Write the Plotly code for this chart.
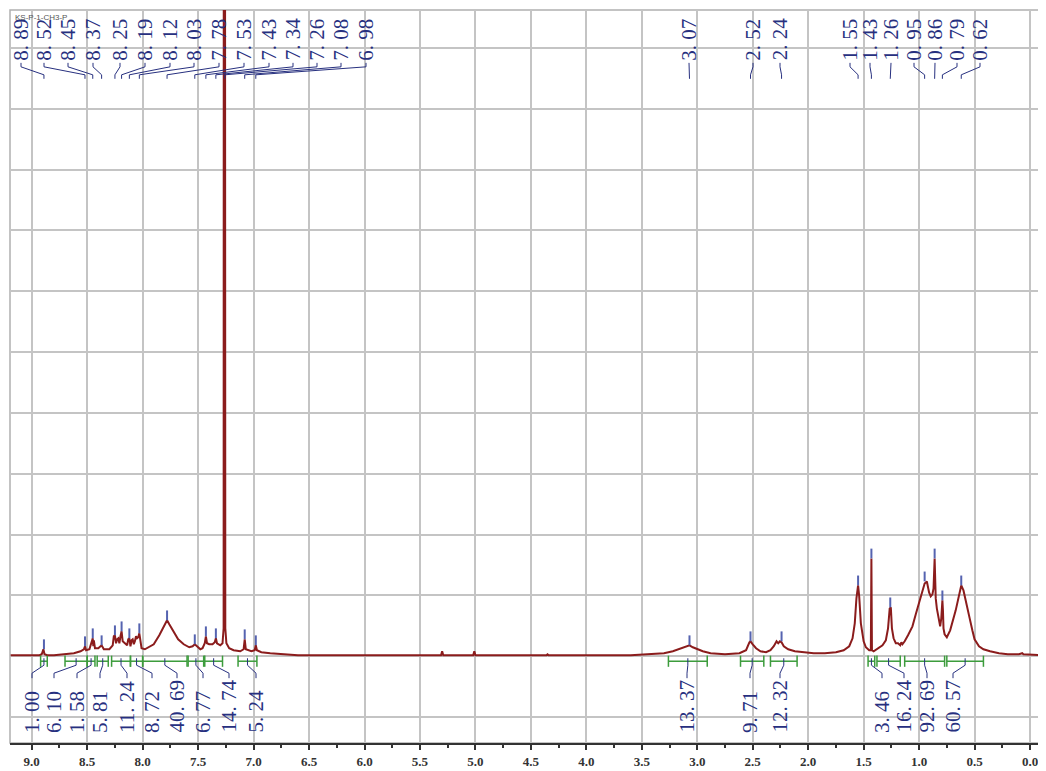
import plotly.graph_objects as go

# ---------------- data ----------------
ppm = [9.19, 9.00, 8.93, 8.91, 8.895, 8.885, 8.86, 8.80, 8.70, 8.62, 8.56, 8.53, 8.52, 8.51,
       8.48, 8.46, 8.45, 8.445, 8.44, 8.43, 8.40, 8.37, 8.35, 8.30, 8.27, 8.26, 8.25, 8.24,
       8.23, 8.22, 8.21, 8.20, 8.19, 8.18, 8.16, 8.14, 8.13, 8.12, 8.11, 8.10, 8.09, 8.08,
       8.07, 8.06, 8.05, 8.04, 8.03, 8.02, 8.01, 7.98, 7.95, 7.90, 7.85, 7.82, 7.80, 7.78,
       7.76, 7.72, 7.68, 7.63, 7.58, 7.55, 7.53, 7.51, 7.48, 7.46, 7.44, 7.43, 7.42, 7.40,
       7.37, 7.35, 7.34, 7.33, 7.30, 7.28, 7.27, 7.265, 7.255, 7.245, 7.22, 7.18, 7.12, 7.09,
       7.08, 7.07, 7.02, 6.99, 6.98, 6.97, 6.93, 6.85, 6.75, 6.60, 6.00, 5.31, 5.30, 5.29,
       5.02, 5.01, 5.00, 4.36, 4.35, 4.34, 3.60, 3.45, 3.30, 3.22, 3.15, 3.10, 3.07, 3.04,
       3.00, 2.95, 2.88, 2.75, 2.62, 2.56, 2.53, 2.52, 2.50, 2.47, 2.43, 2.38, 2.34, 2.31,
       2.285, 2.27, 2.255, 2.24, 2.22, 2.18, 2.12, 2.05, 1.95, 1.85, 1.75, 1.68, 1.63, 1.60,
       1.58, 1.565, 1.55, 1.54, 1.525, 1.50, 1.48, 1.45, 1.435, 1.43, 1.425, 1.41, 1.38, 1.33,
       1.30, 1.28, 1.265, 1.255, 1.245, 1.23, 1.21, 1.19, 1.17, 1.16, 1.15, 1.13, 1.10, 1.06,
       1.03, 1.00, 0.97, 0.95, 0.93, 0.91, 0.895, 0.88, 0.87, 0.865, 0.86, 0.855, 0.85, 0.84,
       0.82, 0.81, 0.80, 0.79, 0.785, 0.78, 0.77, 0.75, 0.72, 0.70, 0.67, 0.65, 0.63, 0.62,
       0.60, 0.58, 0.55, 0.52, 0.50, 0.46, 0.42, 0.36, 0.28, 0.20, 0.10, 0.07, 0.06, -0.09]
intensity = [0, 0, 0, 1, 6, 1, 0, 0, 1, 2, 4, 6, 9, 5,
             6, 12, 17, 9, 15, 7, 7, 10, 6, 6, 10, 19, 20, 12,
             16, 17, 12, 19, 24, 14, 12, 10, 16, 17, 9, 15, 16, 11,
             14, 19, 17, 18, 22, 12, 7, 6, 8, 11, 20, 27, 32, 35,
             31, 23, 16, 11, 8, 9, 11, 9, 6, 7, 12, 19, 12, 11,
             11, 13, 17, 12, 10, 12, 27, 3000, 27, 12, 7, 5, 4, 6,
             16, 6, 4, 5, 10, 5, 3, 2, 1, 0, 0, 0, 4, 0,
             0, 4, 0, 0, 1, 0, 0, 1, 2, 4, 7, 9, 10, 8,
             6, 4, 2, 1, 2, 5, 13, 14, 11, 7, 4, 3, 5, 9,
             14, 12, 14, 13, 9, 6, 4, 3, 2, 2, 3, 5, 9, 17,
             32, 57, 70, 59, 32, 14, 8, 5, 5, 97, 5, 4, 6, 10,
             15, 27, 47, 48, 27, 17, 12, 12, 10, 13, 11, 14, 20, 29,
             41, 53, 65, 72, 74, 63, 59, 61, 67, 95, 97, 77, 57, 47,
             33, 29, 37, 55, 45, 27, 21, 18, 25, 32, 45, 55, 67, 70,
             65, 56, 40, 25, 16, 9, 6, 4, 2, 1, 1, 2, 1, 0]

peak_labels = [8.89, 8.52, 8.45, 8.37, 8.25, 8.19, 8.12, 8.03, 7.78, 7.53, 7.43, 7.34,
               7.26, 7.08, 6.98, 3.07, 2.52, 2.24, 1.55, 1.43, 1.26, 0.95, 0.86, 0.79, 0.62]

integral_start = [8.92, 8.70, 8.50, 8.41, 8.28, 8.11, 8.00, 7.59, 7.44, 7.14,
                  3.26, 2.61, 2.34, 1.46, 1.38, 1.13, 0.75]
integral_end = [8.86, 8.50, 8.43, 8.31, 8.11, 8.00, 7.60, 7.45, 7.28, 6.97,
                2.91, 2.40, 2.10, 1.40, 1.17, 0.77, 0.42]
integral_values = [1.00, 6.10, 1.58, 5.81, 11.24, 8.72, 40.69, 6.77, 14.74, 5.24,
                   13.37, 9.71, 12.32, 3.46, 16.24, 92.69, 60.57]

tick_values = [9.0, 8.5, 8.0, 7.5, 7.0, 6.5, 6.0, 5.5, 5.0, 4.5, 4.0, 3.5, 3.0, 2.5, 2.0, 1.5, 1.0, 0.5, 0.0]
tick_text = ["9.0", "8.5", "8.0", "7.5", "7.0", "6.5", "6.0", "5.5", "5.0", "4.5", "4.0",
             "3.5", "3.0", "2.5", "2.0", "1.5", "1.0", "0.5", "0.0"]
title_text = "KS-P-1-CH3-P"

# ---------------- layout (pixel placement of labels) ----------------
PAGE_OFF = 8                       # default body margin of the html page
W, H = 1046 - PAGE_OFF, 771 - PAGE_OFF
ML, MR, MT, MB = 2, 6, 2, 26
X_LEFT, X_RIGHT = 9.196, -0.090
BASE_PX = 657                      # screen row of the spectrum baseline
Y_LO, Y_HI = BASE_PX - (PAGE_OFF + H - MB), BASE_PX - (PAGE_OFF + MT)
PLOT_W = W - ML - MR
PLOT_X0 = PAGE_OFF + ML

def px2ppm(px):
    return X_LEFT - (px - PLOT_X0) * (X_LEFT - X_RIGHT) / PLOT_W

def py2y(py):
    return BASE_PX - py

top_label_px = [21, 44, 68, 93, 120, 145, 170, 194, 219, 244, 269, 293, 317, 341, 366,
                689, 753, 780, 850, 870, 891, 914, 935, 957, 980]
int_label_px = [32, 54, 77, 100, 127, 152, 177, 203, 229, 256, 687, 750, 780, 882, 904, 927, 953]

NAVY = "#27307f"
GREEN = "#3c9c3c"
SPEC = "#8b1c1c"
GRID = "#c4c4c4"
LABEL_FONT = dict(family="Liberation Serif", size=21, color=NAVY)

def fmt(v):
    s = f"{v:.2f}"
    a, b = s.split(".")
    return f"{a}. {b}"

def local_top(p, w=0.02):
    return max(i for x, i in zip(ppm, intensity) if abs(x - p) <= w)

fig = go.Figure()

# spectrum
fig.add_trace(go.Scatter(x=ppm, y=intensity, mode="lines",
                         line=dict(color=SPEC, width=2), hoverinfo="skip"))

# peak pick markers
mx, my = [], []
for p in peak_labels:
    t = local_top(p)
    if t < Y_HI - 20:
        mx.append(p)
        my.append(t + 5)
fig.add_trace(go.Scatter(x=mx, y=my, mode="markers",
                         marker=dict(symbol="line-ns", size=7, line=dict(width=2, color="#5563b0")),
                         hoverinfo="skip"))

# top peak label leaders
lx, ly = [], []
for p, lp in zip(peak_labels, top_label_px):
    xl = px2ppm(lp)
    lx += [xl, xl, p, p, None]
    ly += [py2y(63), py2y(67), py2y(75), py2y(79), None]
fig.add_trace(go.Scatter(x=lx, y=ly, mode="lines", line=dict(color=NAVY, width=1),
                         hoverinfo="skip"))

# integral bars
bx, by, cx, cy = [], [], [], []
for s, e in zip(integral_start, integral_end):
    bx += [s, e, None]
    by += [py2y(663), py2y(663), None]
    cx += [s, e]
    cy += [py2y(663), py2y(663)]
fig.add_trace(go.Scatter(x=bx, y=by, mode="lines", line=dict(color=GREEN, width=1.5),
                         hoverinfo="skip"))
fig.add_trace(go.Scatter(x=cx, y=cy, mode="markers",
                         marker=dict(symbol="line-ns", size=8, line=dict(width=1.5, color=GREEN)),
                         hoverinfo="skip"))

# integral leaders
ix, iy = [], []
for s, e, lp in zip(integral_start, integral_end, int_label_px):
    c = (s + e) / 2
    xl = px2ppm(lp)
    ix += [c, c, xl, xl, None]
    iy += [py2y(660), py2y(667), py2y(675), py2y(680), None]
fig.add_trace(go.Scatter(x=ix, y=iy, mode="lines", line=dict(color=NAVY, width=1),
                         hoverinfo="skip"))

annotations = []
for p, lp in zip(peak_labels, top_label_px):
    annotations.append(dict(x=px2ppm(lp), y=py2y(62), xref="x", yref="y", text=fmt(p),
                            textangle=-90, showarrow=False, xanchor="center", yanchor="bottom",
                            font=LABEL_FONT, borderpad=0))
for v, lp in zip(integral_values, int_label_px):
    annotations.append(dict(x=px2ppm(lp), y=py2y(736), xref="x", yref="y", text=fmt(v),
                            textangle=-90, showarrow=False, xanchor="center", yanchor="bottom",
                            font=LABEL_FONT, borderpad=0))
annotations.append(dict(x=0.003, y=0.998, xref="paper", yref="paper", text=title_text,
                        showarrow=False, xanchor="left", yanchor="top",
                        font=dict(family="Liberation Sans", size=8, color="#555555")))

fig.update_layout(
    width=W, height=H,
    margin=dict(l=ML, r=MR, t=MT, b=MB, pad=0),
    paper_bgcolor="white", plot_bgcolor="white",
    showlegend=False,
    annotations=annotations,
    shapes=[dict(type="rect", xref="paper", yref="paper", x0=0, x1=1, y0=0, y1=1,
                 line=dict(color="#b0b0b0", width=1.5), layer="below")],
    xaxis=dict(range=[X_LEFT, X_RIGHT], tickmode="array", tickvals=tick_values, ticktext=tick_text,
               showgrid=True, gridcolor=GRID, gridwidth=1.5, zeroline=False,
               showline=True, linecolor="#333333", linewidth=2,
               ticks="outside", ticklen=5, tickwidth=1.5, tickcolor="#333333",
               tickfont=dict(family="Liberation Serif", size=13, color="#333333", weight="bold"),
               minor=dict(dtick=0.25, tick0=0, ticks="outside", ticklen=3, tickcolor="#333333",
                          showgrid=False)),
    yaxis=dict(range=[Y_LO, Y_HI], tick0=-1, dtick=61, showgrid=True, gridcolor=GRID,
               gridwidth=1.5, zeroline=False, showticklabels=False, ticks=""),
)

fig.write_html("out.html")
